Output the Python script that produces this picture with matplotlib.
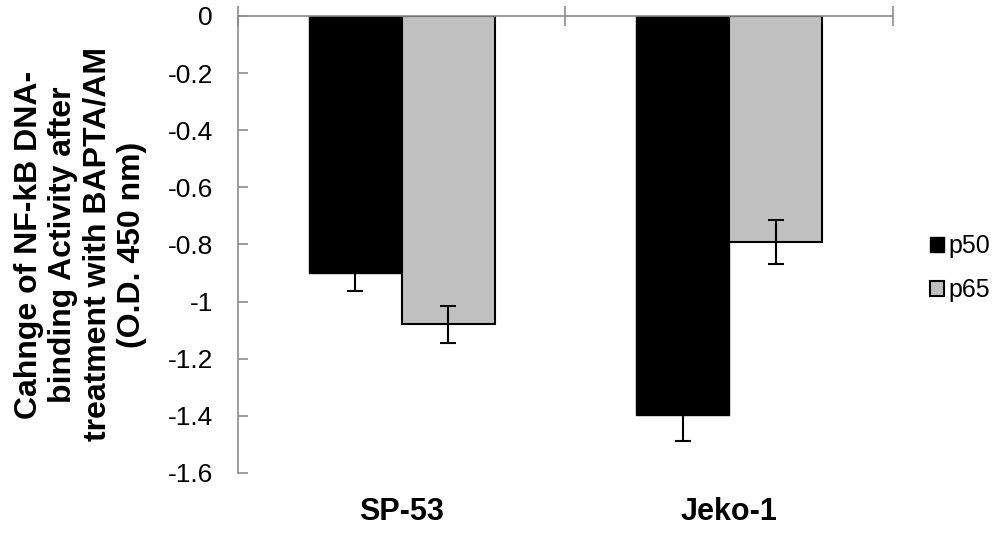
import matplotlib
matplotlib.use("Agg")
import matplotlib.pyplot as plt
import numpy as np

plt.rcParams['font.family'] = ['Liberation Sans', 'DejaVu Sans']

cell_lines = ['SP-53', 'Jeko-1']
series = ['p50', 'p65']
p50_vals = [-0.90, -1.397]
p65_vals = [-1.08, -0.79]
p50_err = [0.063, 0.09]
p65_err = [0.065, 0.077]
y_ticks = [0, -0.2, -0.4, -0.6, -0.8, -1.0, -1.2, -1.4, -1.6]
y_labels = ['0', '-0.2', '-0.4', '-0.6', '-0.8', '-1', '-1.2', '-1.4', '-1.6']
y_title = 'Cahnge of NF-kB DNA-\nbinding Activity after\ntreatment with BAPTA/AM\n(O.D. 450 nm)'

fig = plt.figure(figsize=(10.04, 5.33), dpi=100)
ax = fig.add_axes([0.237, 0.1126, 0.6524, 0.8574])

centers = np.arange(len(cell_lines)) + 0.5
w = 0.284
err_kw = dict(ecolor='black', elinewidth=1.5, capsize=6, capthick=1.5)
b1 = ax.bar(centers - w / 2, p50_vals, w, color='black', edgecolor='black',
            linewidth=1.0, yerr=p50_err, error_kw=err_kw, label=series[0])
b2 = ax.bar(centers + w / 2, p65_vals, w, color='#c0c0c0', edgecolor='black',
            linewidth=1.5, yerr=p65_err, error_kw=err_kw, label=series[1])

ax.set_ylim(-1.6, 0)
ax.set_xlim(0, 2)
ax.set_yticks(y_ticks)
ax.set_yticklabels(y_labels, fontsize=19)
ax.tick_params(axis='y', direction='in', length=7, color='#8c8c8c', width=1.2, pad=18)

ax.xaxis.set_ticks_position('top')
ax.set_xticks([0, 1, 2])
ax.set_xticklabels([])
ax.tick_params(axis='x', direction='inout', length=14, color='#8c8c8c', width=1.2)

for s in ['right', 'bottom']:
    ax.spines[s].set_visible(False)
for s in ['left', 'top']:
    ax.spines[s].set_color('#8c8c8c')
    ax.spines[s].set_linewidth(1.2)

trans = ax.get_xaxis_transform()
for c, name in zip(centers, cell_lines):
    ax.text(c, -0.086, name, transform=trans, ha='center', va='center',
            fontsize=22, fontweight='bold')

ax.set_ylabel(y_title, fontsize=23, fontweight='bold', linespacing=1.18, labelpad=15)

ax.legend(handles=[b1, b2], loc='center left',
          bbox_to_anchor=(930 / 1004, 1 - 268 / 533), bbox_transform=fig.transFigure,
          frameon=False, fontsize=18, handlelength=0.55, handleheight=0.55,
          handletextpad=0.2, labelspacing=0.8, borderaxespad=0, borderpad=0)

fig.savefig('out.png', dpi=100)
